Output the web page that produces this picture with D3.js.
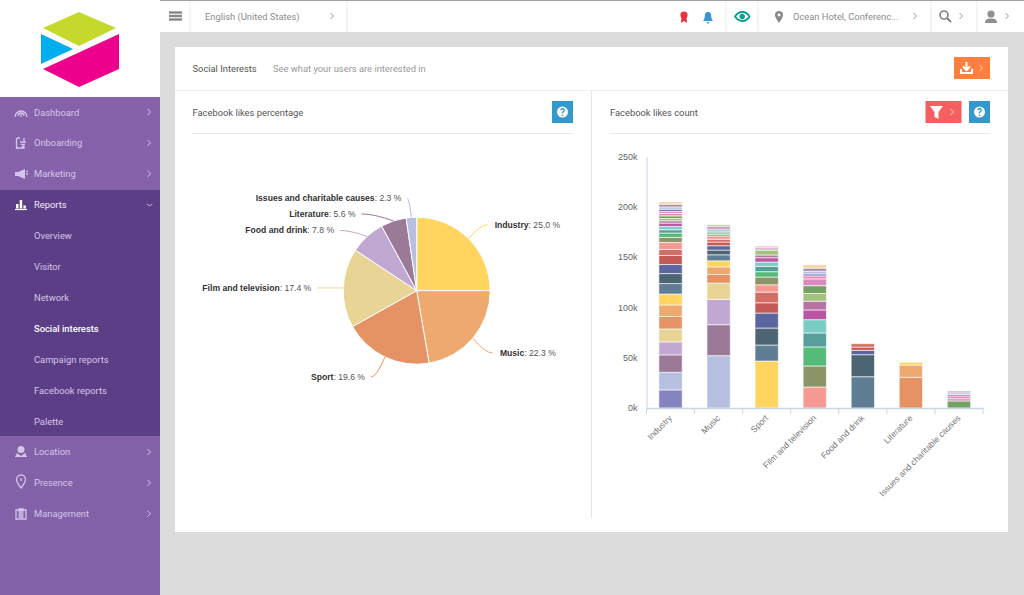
<!DOCTYPE html>
<html>
<head>
<meta charset="utf-8">
<title>Social Interests</title>
<script src="https://cdn.jsdelivr.net/npm/d3@7"></script>
<style>
  html, body { margin: 0; padding: 0; background: #dcdcdc; overflow: hidden; }
  svg { display: block; font-family: Roboto, sans-serif; }
  .chart-text { font-family: "Liberation Sans", sans-serif; }
</style>
</head>
<body>
<svg id="page" width="1024" height="595"></svg>
<script>
// pie
const pieCategories = ['Industry', 'Music', 'Sport', 'Film and television', 'Food and drink', 'Literature', 'Issues and charitable causes'];
const piePercent = [25.0, 22.3, 19.6, 17.4, 7.8, 5.6, 2.3];
const pieColors = ['#ffd55f', '#eda96e', '#e59264', '#e8d595', '#c0a8d2', '#9b7a97', '#b7bfe0'];

// stacked bars, one list per category, bottom segment first (thousands)
const barCategories = ['Industry', 'Music', 'Sport', 'Film and television', 'Food and drink', 'Literature', 'Issues and charitable causes'];
const industryLikes = [18, 17.5, 17.3, 12.9, 12.9, 12.4, 11.4, 10.9, 10.4, 9.9, 9, 9, 6, 7, 5, 4.3, 3.3, 3.3, 3.3, 2.3, 2.3, 2.6, 2.3, 2, 2.3, 2.3, 2.6, 2.3];
const musicLikes = [52, 30.8, 25.1, 16.2, 8.6, 7.6, 6, 6, 4.7, 4.3, 3.7, 2.7, 3.3, 1.7, 1.5, 1.6, 1.5, 1.6, 1.6, 1.5];
const sportLikes = [46.7, 15.9, 16.9, 14.9, 10.2, 10.6, 7.3, 7.7, 5.3, 5.3, 4.3, 4.3, 2.7, 4.7, 1.3, 1.4, 1.3];
const filmLikes = [20.9, 20.9, 18.9, 13.9, 13.2, 9.7, 8.7, 7.7, 7.7, 6.7, 3, 2, 2.7, 3, 3.3];
const foodLikes = [31.1, 21.9, 4.3, 3.3, 3.3];
const literatureLikes = [30.5, 12.2, 2.7];
const issuesLikes = [7, 2.3, 2.7, 1.6, 1.6, 1.5];
const barValues = [industryLikes, musicLikes, sportLikes, filmLikes, foodLikes, literatureLikes, issuesLikes];
const barFirstColor = [0, 1, 7, 13, 8, 5, 21];
const barPalette = ['#8583c0', '#b7bfe0', '#9b7a97', '#c0a8d2', '#e8d595', '#e59264', '#eda96e', '#ffd55f', '#5f7d93', '#4d6473',
  '#5b659f', '#c45a56', '#d26d66', '#f59a92', '#8b9568', '#55bb78', '#589f9c', '#79cdc4', '#b955a2', '#b772a3',
  '#a3c27f', '#73a260', '#d98bc0', '#f08bb0', '#6f78c4', '#b7bfe0', '#a58ea3', '#f3d3a4'];
const yTicks = [0, 50, 100, 150, 200, 250];

// navigation
const navTop = ['Dashboard', 'Onboarding', 'Marketing', 'Reports'];
const navSub = ['Overview', 'Visitor', 'Network', 'Social interests', 'Campaign reports', 'Facebook reports', 'Palette'];
const navBottom = ['Location', 'Presence', 'Management'];

const svg = d3.select('#page');
const defs = svg.append('defs');
const grad = defs.append('linearGradient').attr('id', 'side').attr('x1', 0).attr('x2', 0).attr('y1', 0).attr('y2', 1);
grad.append('stop').attr('offset', 0).attr('stop-color', '#8562a9');
grad.append('stop').attr('offset', 1).attr('stop-color', '#8161a8');

const uiSize = 9.35;

function rect(g, x, y, w, h, fill) {
  return g.append('rect').attr('x', x).attr('y', y).attr('width', w).attr('height', h).attr('fill', fill);
}
function label(g, x, y, str, size, fill) {
  return g.append('text').attr('x', x).attr('y', y).attr('font-size', size).attr('fill', fill).text(str);
}
function chevron(g, x, y, color) {
  g.append('path').attr('d', `M${x - 1.5},${y - 3}L${x + 1.5},${y}L${x - 1.5},${y + 3}`)
    .attr('fill', 'none').attr('stroke', color).attr('stroke-width', 1);
}

// ---- page frame
rect(svg, 0, 0, 1024, 595, '#dcdcdc');

// sidebar
const side = svg.append('g');
rect(side, 0, 0, 160, 97, '#ffffff');
rect(side, 0, 97, 160, 498, 'url(#side)');
rect(side, 0, 190, 160, 246, '#5c3e86');
side.append('polygon').attr('points', '43,28 79,12 116,28 79,46').attr('fill', '#c5d92d');
side.append('polygon').attr('points', '41,34 73,49 41,64').attr('fill', '#00aeef');
side.append('polygon').attr('points', '43,69 119,34 119,69 79,87').attr('fill', '#ec008c');

const navRow = d3.scaleLinear().domain([0, 1]).range([112, 142.9]);
const sideColor = '#d5c5e8';
navTop.forEach((d, i) => {
  const open = d === 'Reports';
  label(side, 34, navRow(i) + 3.5, d, uiSize, open ? '#f3ecfa' : sideColor);
  if (open) {
    side.append('path').attr('d', `M147,${navRow(i) - 1}L149.5,${navRow(i) + 1.5}L152,${navRow(i) - 1}`)
      .attr('fill', 'none').attr('stroke', sideColor);
  } else {
    chevron(side, 149, navRow(i), sideColor);
  }
});
navSub.forEach((d, i) => {
  const on = d === 'Social interests';
  label(side, 34, navRow(i + 4) + 3.5, d, uiSize, on ? '#ffffff' : sideColor)
    .attr('font-weight', on ? 500 : 400);
});
navBottom.forEach((d, i) => {
  label(side, 34, navRow(i + 11) + 3.5, d, uiSize, sideColor);
  chevron(side, 149, navRow(i + 11), sideColor);
});

// sidebar icons
const iconStroke = { fill: 'none', stroke: '#d5c5e8', 'stroke-width': 1.3 };
function iconPath(d, attrs) {
  const p = side.append('path').attr('d', d);
  Object.entries(attrs).forEach(([k, v]) => p.attr(k, v));
  return p;
}
iconPath('M15,117A6,6 0 1 1 27,117M18,116A3,3 0 1 1 24,116M21,117V114', iconStroke);
iconPath('M17,138H20M17,148H24V146M16.5,138V149M24,138V141M20,142L26,142M21,144.5H25M22,146.5H24', iconStroke);
iconPath('M15,172H18L25,169V179L18,176H15Z', { fill: '#d5c5e8' });
iconPath('M26,172L28,171M26,174H28', iconStroke);
iconPath('M15,209.5H27', { fill: 'none', stroke: '#fff', 'stroke-width': 1.2 });
rect(side, 16, 204, 2.5, 4.5, '#fff');
rect(side, 19.7, 200, 2.5, 8.5, '#fff');
rect(side, 23.4, 205.5, 2.5, 3, '#fff');
iconPath('M21,446A3.5,3.5 0 0 1 21,453A3.5,3.5 0 0 1 21,446ZM15,457L17,453L21,456L25,453L27,457Z', { fill: '#d5c5e8' });
iconPath('M21,488C17,483 16.5,481 16.5,479.5A4.5,4.5 0 0 1 25.5,479.5C25.5,481 25,483 21,488ZM21,478V481', iconStroke);
iconPath('M16,510H26V519H16ZM19,509H23V511H19ZM18.5,513H23.5M18.5,515H23.5M18.5,517H23.5', iconStroke);

// top bar
const topBar = svg.append('g');
rect(topBar, 160, 0, 864, 32, '#ffffff');
rect(topBar, 160, 0, 864, 1, '#a0a0a0');
[190, 347, 726, 758, 931, 977].forEach(x => rect(topBar, x - 0.5, 1, 1, 31, '#ececec'));
[12.5, 16, 19.5].forEach(y => rect(topBar, 169, y - 1.2, 13, 2.4, '#888'));
label(topBar, 205, 20, 'English (United States)', uiSize, '#8c8c8c');
chevron(topBar, 332, 16, '#999');
label(topBar, 793, 20, 'Ocean Hotel, Conferenc...', uiSize, '#8c8c8c');
chevron(topBar, 915, 16, '#999');
chevron(topBar, 961, 16, '#999');
chevron(topBar, 1007, 16, '#999');
topBar.append('circle').attr('cx', 684).attr('cy', 15).attr('r', 3.6).attr('fill', '#e8343c');
topBar.append('path').attr('d', 'M681.5,17L681,23L684,21L687,23L686.5,17Z').attr('fill', '#e8343c');
topBar.append('path').attr('d', 'M703,21C705,19 704.5,17 705,14.5C705.5,12.5 706.5,12 708,12C709.5,12 710.5,12.5 711,14.5C711.5,17 711,19 713,21ZM706.5,22H709.5L708,24Z').attr('fill', '#3a96d8');
topBar.append('path').attr('d', 'M735,16.5C739,10.5 746,10.5 749.5,16.5C746,22.5 739,22.5 735,16.5Z').attr('fill', 'none').attr('stroke', '#0a9e93').attr('stroke-width', 1.8);
topBar.append('circle').attr('cx', 742.2).attr('cy', 16.5).attr('r', 2.7).attr('fill', '#0a9e93');
topBar.append('path').attr('d', 'M779,23C775.5,18 775,16 775,15A4,4 0 0 1 783,15C783,16 782.5,18 779,23Z').attr('fill', '#8a8a8a');
topBar.append('circle').attr('cx', 779).attr('cy', 15).attr('r', 1.4).attr('fill', '#fff');
topBar.append('circle').attr('cx', 944).attr('cy', 15).attr('r', 4).attr('fill', 'none').attr('stroke', '#808080').attr('stroke-width', 1.6);
topBar.append('path').attr('d', 'M947,18L951,22').attr('stroke', '#808080').attr('stroke-width', 2);
topBar.append('circle').attr('cx', 991).attr('cy', 14).attr('r', 3.6).attr('fill', '#909090');
topBar.append('path').attr('d', 'M985,23C985,19 988,18.5 991,18.5C994,18.5 997,19 997,23Z').attr('fill', '#909090');

// card
const card = svg.append('g');
rect(card, 175, 47, 833, 485, '#ffffff');
rect(card, 175, 90, 833, 1, '#ececec');
rect(card, 591, 91, 1, 427, '#e4e4e4');
rect(card, 192, 133, 381, 1, '#e8e8e8');
rect(card, 610, 133, 380, 1, '#e8e8e8');
label(card, 192.5, 72, 'Social Interests', uiSize, '#555');
label(card, 273, 72, 'See what your users are interested in', uiSize, '#999');
label(card, 192.5, 116, 'Facebook likes percentage', uiSize, '#555');
label(card, 610, 116, 'Facebook likes count', uiSize, '#555');

// buttons
rect(card, 954, 57, 36, 22, '#ff7f41');
card.append('path').attr('d', 'M961,69L961,73H972V69M966.5,62V70M963,66.5L966.5,70L970,66.5')
  .attr('fill', 'none').attr('stroke', '#fff').attr('stroke-width', 2);
chevron(card, 981, 68, '#ffd9c4');
rect(card, 925.5, 101, 36, 22, '#f65f5f');
card.append('path').attr('d', 'M930,106H943L938.5,112V119L934.5,117V112Z').attr('fill', '#fff');
chevron(card, 952, 112, '#ffd0d0');
[552, 969].forEach(x => {
  rect(card, x, 101, 21, 22, '#3498cc');
  card.append('circle').attr('cx', x + 10.5).attr('cy', 112).attr('r', 5.5).attr('fill', '#fff');
  card.append('text').attr('x', x + 10.5).attr('y', 115.5).attr('text-anchor', 'middle')
    .attr('font-size', 10).attr('font-weight', 700).attr('fill', '#3498cc').text('?');
});

// ---- pie
const pieG = svg.append('g').attr('class', 'chart-text').attr('transform', 'translate(416.7,290.7)');
const pieR = 73.5;
const pieGen = d3.pie().sort(null).value(d => d);
const arcGen = d3.arc().innerRadius(0).outerRadius(pieR);
const arcs = pieGen(piePercent);
pieG.selectAll('path.slice').data(arcs).join('path').attr('class', 'slice')
  .attr('d', arcGen)
  .attr('fill', (d, i) => pieColors[i])
  .attr('stroke', '#fff').attr('stroke-width', 1);

// label offsets from the slice edge point: end of the connector, then the text
const labelDx = [19, 20, -14, -26, -27, -32, -4];
const labelDy = [-14, 15, 20, 0, -6, -7, -19];
const labelAnchor = ['start', 'start', 'end', 'end', 'end', 'end', 'end'];
arcs.forEach((d, i) => {
  const mid = (d.startAngle + d.endAngle) / 2;
  const ex = Math.sin(mid) * pieR, ey = -Math.cos(mid) * pieR;
  const lx = ex + labelDx[i], ly = ey + labelDy[i];
  const link = d3.path();
  link.moveTo(ex, ey);
  link.quadraticCurveTo(lx - labelDx[i] * 0.4, ly, lx, ly);
  pieG.append('path').attr('d', link.toString())
    .attr('fill', 'none').attr('stroke', pieColors[i]).attr('stroke-width', 1);
  const t = pieG.append('text')
    .attr('x', lx + (labelAnchor[i] === 'start' ? 7 : -6))
    .attr('y', ly + 3)
    .attr('text-anchor', labelAnchor[i])
    .attr('font-size', 8.6).attr('fill', '#333');
  t.append('tspan').attr('font-weight', 700).text(pieCategories[i]);
  t.append('tspan').text(': ' + piePercent[i].toFixed(1) + ' %').attr('fill', '#555');
});

// ---- stacked bars
const x = d3.scaleBand().domain(barCategories).range([646.5, 983]).paddingInner(0.515).paddingOuter(0.2575);
const y = d3.scaleLinear().domain([0, 250]).range([408, 156.5]);
const chart = svg.append('g').attr('class', 'chart-text');

barCategories.forEach((c, i) => {
  const vals = barValues[i];
  const tops = d3.cumsum(vals);
  chart.append('g').selectAll('rect').data(vals).join('rect')
    .attr('x', x(c))
    .attr('width', x.bandwidth())
    .attr('y', (d, j) => y(tops[j]))
    .attr('height', (d, j) => y(tops[j] - d) - y(tops[j]))
    .attr('fill', (d, j) => barPalette[(barFirstColor[i] + j) % barPalette.length])
    .attr('stroke', '#fff').attr('stroke-opacity', 0.6).attr('stroke-width', 1);
});

const axisColor = '#c9d6e8';
const yAxis = chart.append('g').attr('transform', 'translate(646.5,0)')
  .call(d3.axisLeft(y).tickValues(yTicks).tickSize(0).tickPadding(9).tickFormat(d => d + 'k'));
yAxis.select('.domain').attr('stroke', axisColor);
yAxis.selectAll('text').attr('font-size', 9).attr('fill', '#666');

const xAxis = chart.append('g').attr('transform', 'translate(0,408)')
  .call(d3.axisBottom(x).tickSize(0).tickPadding(6));
xAxis.select('.domain').attr('stroke', axisColor).attr('stroke-width', 1.5);
xAxis.selectAll('text')
  .attr('font-size', 8.6).attr('fill', '#777')
  .attr('text-anchor', 'end')
  .attr('dy', '3px').attr('dx', '-6px')
  .attr('transform', 'rotate(-45)');
// ticks sit between the categories
chart.append('g').selectAll('line').data(d3.range(barCategories.length + 1)).join('line')
  .attr('x1', d => x.range()[0] + d * x.step()).attr('x2', d => x.range()[0] + d * x.step())
  .attr('y1', 408).attr('y2', 414)
  .attr('stroke', axisColor);
</script>
</body>
</html>
